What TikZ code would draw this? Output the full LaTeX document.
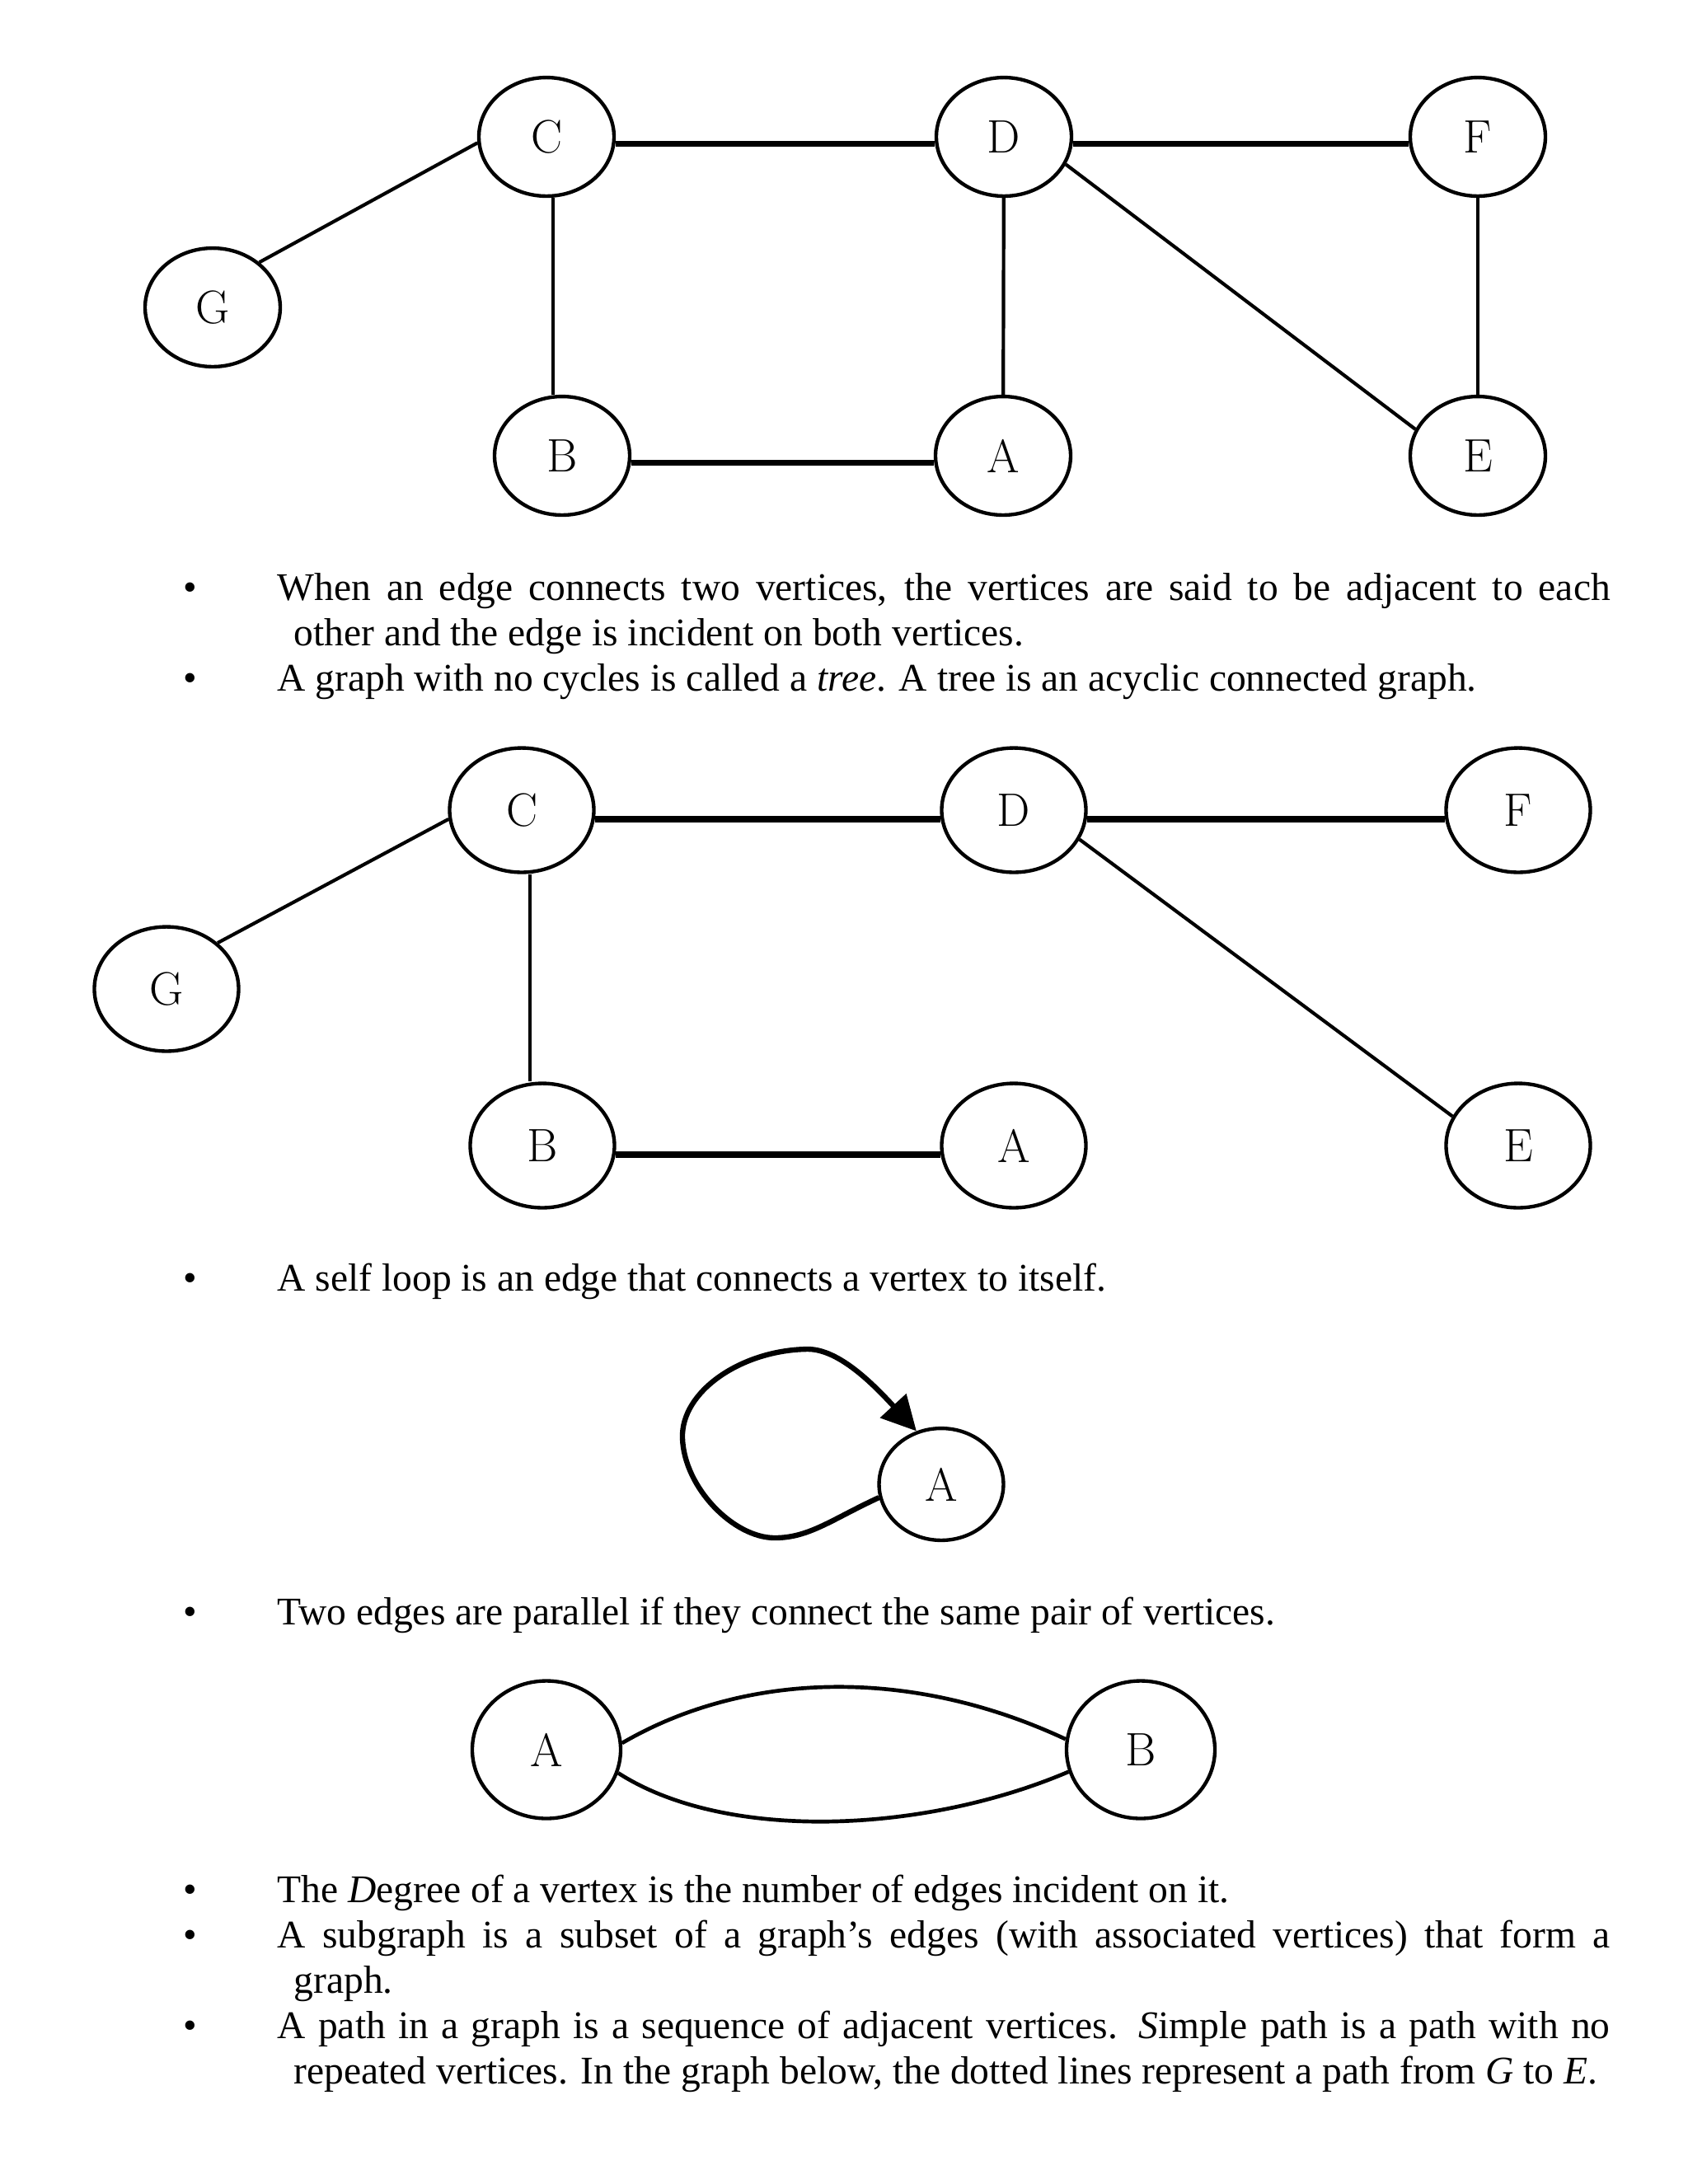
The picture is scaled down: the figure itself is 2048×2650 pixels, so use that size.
\documentclass[tikz,border=0pt]{standalone}
\usepackage{fontspec}
\newfontfamily\txtfont{Liberation Serif}
\usetikzlibrary{arrows.meta,shapes.geometric}
\begin{document}
\begin{tikzpicture}[x=0.29883pt,y=-0.29883pt,
  vtx/.style={draw,ellipse,line width=1.3pt,inner sep=0pt,font=\fontsize{17}{17}\selectfont},
  ga/.style={vtx,minimum width=49pt,minimum height=43pt},
  gb/.style={vtx,minimum width=52.3pt,minimum height=45.1pt},
  edgethin/.style={line width=1.25pt},
  edgeheavy/.style={line width=2.2pt},
  txt/.style={anchor=base west,inner sep=0pt,font=\txtfont\fontsize{14.2}{16.45}\selectfont},
  bul/.style={anchor=base,inner sep=0pt,font=\txtfont\fontsize{14.2}{16.45}\selectfont},
]
\fill[white] (0,0) rectangle (2048,2650);
\useasboundingbox (0,0) rectangle (2048,2650);

% ---------- graph 1 ----------
\node[ga] (aC) at (663,166) {C};
\node[ga] (aD) at (1218,166) {D};
\node[ga] (aF) at (1793,166) {F};
\node[ga] (aG) at (258,373) {G};
\node[ga] (aB) at (682,553) {B};
\node[ga] (aA) at (1217,553) {A};
\node[ga] (aE) at (1793,553) {E};
\coordinate (aCBx) at (671,0);
\draw[edgethin] (aG.44) -- (aC.185);
\draw[edgethin] (aC.south -| aCBx) -- (aB.north -| aCBx);
\draw[edgethin] (aD) -- (aA);
\draw[edgethin] (aF) -- (aE);
\draw[edgethin] (aD.-24) -- (aE.157);
\draw[edgeheavy] (aC.-6) -- (aD.186);
\draw[edgeheavy] (aD.-6) -- (aF.186);
\draw[edgeheavy] (aB.-6) -- (aA.186);

% ---------- text block 1 ----------
\node[bul] (b1) at (231,728) {•};
\node[txt] (t1) at (336,728) {\makebox[483.2pt][s]{When an edge connects two vertices, the vertices are said to be adjacent to each}};
\node[txt] (t1b) at (356,783) {other and the edge is incident on both vertices.};
\node[bul] (b2) at (231,838) {•};
\node[txt] (t2) at (336,838) {A graph with no cycles is called a \textit{tree}. A tree is an acyclic connected graph.};

% ---------- graph 2 ----------
\node[gb] (bC) at (633,983) {C};
\node[gb] (bD) at (1230,983) {D};
\node[gb] (bF) at (1842,983) {F};
\node[gb] (bG) at (202,1200) {G};
\node[gb] (bB) at (658,1390) {B};
\node[gb] (bA) at (1230,1390) {A};
\node[gb] (bE) at (1842,1390) {E};
\coordinate (bCBx) at (643,0);
\draw[edgethin] (bG.42) -- (bC.187);
\draw[edgethin] (bC.south -| bCBx) -- (bB.north -| bCBx);
\draw[edgethin] (bD.-24) -- (bE.156);
\draw[edgeheavy] (bC.-7) -- (bD.187);
\draw[edgeheavy] (bD.-7) -- (bF.187);
\draw[edgeheavy] (bB.-7) -- (bA.187);

% ---------- self loop ----------
\node[bul] (b3) at (231,1566) {•};
\node[txt] (t3) at (336,1566) {A self loop is an edge that connects a vertex to itself.};
\node[vtx,minimum width=45.1pt,minimum height=40.6pt] (sA) at (1142,1801) {A};
\draw[line width=1.9pt,-{Triangle[length=12.5pt,width=12.5pt]}]
  (sA.192) .. controls (1010,1843) and (982,1866) .. (940,1866)
  .. controls (890,1866) and (830,1805) .. (828,1745)
  .. controls (826,1688) and (900,1638) .. (980,1637)
  .. controls (1018,1637) and (1060,1680) .. (sA.115);

% ---------- parallel edges ----------
\node[bul] (b4) at (231,1971) {•};
\node[txt] (t4) at (336,1971) {Two edges are parallel if they connect the same pair of vertices.};
\node[vtx,minimum width=53.8pt,minimum height=49.9pt] (pA) at (663,2123) {A};
\node[vtx,minimum width=53.8pt,minimum height=49.9pt] (pB) at (1384,2123) {B};
\draw[line width=1.4pt] (pA.5) .. controls (900,2030) and (1100,2020) .. (pB.172);
\draw[line width=1.4pt] (pA.-18) .. controls (880,2235) and (1120,2225) .. (pB.197);

% ---------- text block 2 ----------
\node[bul] (b5) at (231,2308) {•};
\node[txt] (t5) at (336,2308) {The \textit{D}egree of a vertex is the number of edges incident on it.};
\node[bul] (b6) at (231,2363) {•};
\node[txt] (t6) at (336,2363) {\makebox[483.2pt][s]{A subgraph is a subset of a graph’s edges (with associated vertices) that form a}};
\node[txt] (t6b) at (356,2418) {graph.};
\node[bul] (b7) at (231,2473) {•};
\node[txt] (t7) at (336,2473) {\makebox[483.2pt][s]{A path in a graph is a sequence of adjacent vertices. \textit{S}imple path is a path with no}};
\node[txt] (t7b) at (356,2528) {repeated vertices. In the graph below, the dotted lines represent a path from \textit{G} to \textit{E}.};
\end{tikzpicture}
\end{document}
